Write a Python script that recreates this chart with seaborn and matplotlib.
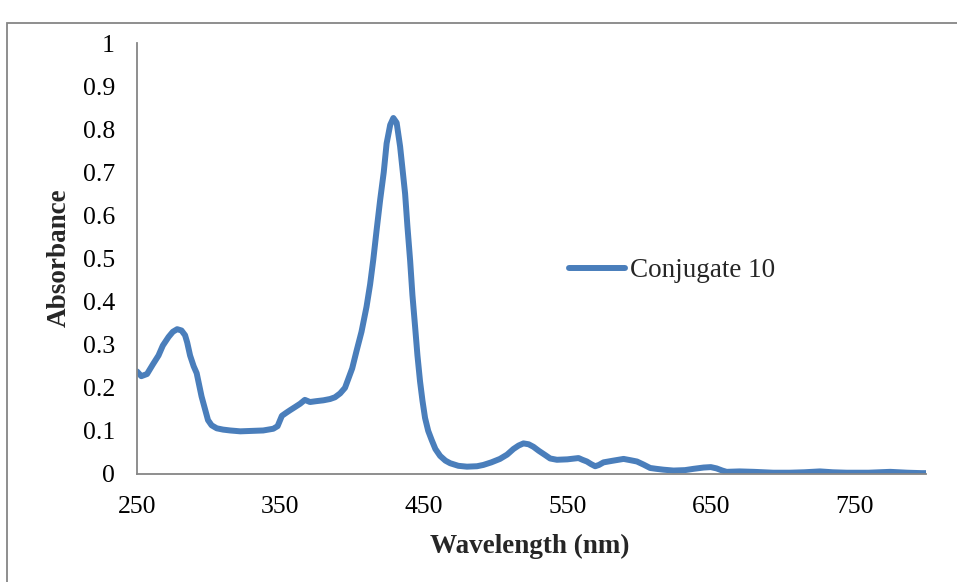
import matplotlib
matplotlib.use("Agg")
import matplotlib.pyplot as plt
import matplotlib.patches as mpatches
from matplotlib.ticker import FixedLocator, FixedFormatter
import seaborn as sns
import pandas as pd

# Data
wavelength = [250, 253, 257, 261, 265, 268, 272, 275, 278, 281, 283.5, 285, 287, 289.5, 291.6, 295,
              299.5, 302, 305.6, 310, 315, 322, 330, 338, 345, 348, 351, 354, 356.7, 360, 363.7, 367,
              370.6, 375, 380, 384.6, 388, 391.6, 395, 397, 400, 403, 406.5, 410, 412.5, 414.7, 417,
              419.5, 422, 424, 426.5, 428.7, 431, 433.4, 435, 436.9, 438.5, 440.4, 442, 443.9, 445.5,
              447.3, 449, 450.8, 453, 455.4, 458, 461.3, 465, 468.3, 474, 480, 487, 491.4, 497, 503,
              508, 512.4, 516, 519.4, 523, 526.4, 530, 534.5, 538, 542.7, 550, 557.8, 560.5, 563.6,
              566.5, 569.4, 572, 575.2, 582, 589.2, 594, 598.5, 603, 607.7, 612, 617, 624, 632, 638,
              645, 650, 654, 658, 661, 670, 680, 693.5, 705, 715, 726, 735, 744.7, 760, 775, 787, 797, 800]
absorbance = [0.238, 0.227, 0.232, 0.254, 0.275, 0.298, 0.318, 0.33, 0.336, 0.333, 0.322, 0.305,
              0.275, 0.25, 0.234, 0.18, 0.125, 0.113, 0.106, 0.103, 0.101, 0.099, 0.1, 0.101, 0.105,
              0.111, 0.135, 0.142, 0.148, 0.155, 0.163, 0.172, 0.167, 0.169, 0.171, 0.174, 0.178,
              0.187, 0.2, 0.218, 0.245, 0.285, 0.33, 0.388, 0.44, 0.497, 0.565, 0.636, 0.7, 0.767,
              0.81, 0.826, 0.815, 0.76, 0.71, 0.65, 0.575, 0.495, 0.415, 0.34, 0.275, 0.215, 0.17,
              0.13, 0.1, 0.079, 0.058, 0.042, 0.031, 0.025, 0.019, 0.017, 0.018, 0.021, 0.027, 0.035,
              0.045, 0.058, 0.066, 0.071, 0.069, 0.063, 0.054, 0.044, 0.036, 0.033, 0.034, 0.037,
              0.033, 0.029, 0.023, 0.018, 0.021, 0.027, 0.031, 0.035, 0.032, 0.029, 0.022, 0.014,
              0.012, 0.01, 0.008, 0.009, 0.012, 0.015, 0.016, 0.013, 0.008, 0.005, 0.006, 0.005,
              0.003, 0.003, 0.004, 0.006, 0.004, 0.003, 0.003, 0.005, 0.003, 0.002, 0.002]
series_name = "Conjugate 10"

x_ticks = [250, 350, 450, 550, 650, 750]
x_tick_labels = ["250", "350", "450", "550", "650", "750"]
y_ticks = [0, 0.1, 0.2, 0.3, 0.4, 0.5, 0.6, 0.7, 0.8, 0.9, 1.0]
y_tick_labels = ["0", "0.1", "0.2", "0.3", "0.4", "0.5", "0.6", "0.7", "0.8", "0.9", "1"]

df = pd.DataFrame({"Wavelength": wavelength, "Absorbance": absorbance})

sns.set_style("white")
plt.rcParams["font.family"] = ["Liberation Serif", "DejaVu Serif"]

W, H = 957, 582
fig = plt.figure(figsize=(W / 100, H / 100), dpi=100)
ax_left, ax_right, ax_bottom, ax_top = 137, 926, 474, 43
ax = fig.add_axes([ax_left / W, 1 - ax_bottom / H, (ax_right - ax_left) / W, (ax_bottom - ax_top) / H])

line_color = "#4a7ebb"
sns.lineplot(data=df, x="Wavelength", y="Absorbance", ax=ax, color=line_color,
             linewidth=4.3, label=series_name, solid_capstyle="round", solid_joinstyle="round")

ax.set_xlim(250, 800)
ax.set_ylim(0, 1)
ax.xaxis.set_major_locator(FixedLocator(x_ticks))
ax.xaxis.set_major_formatter(FixedFormatter(x_tick_labels))
ax.yaxis.set_major_locator(FixedLocator(y_ticks))
ax.yaxis.set_major_formatter(FixedFormatter(y_tick_labels))

axis_gray = "#868686"
for s in ["top", "right"]:
    ax.spines[s].set_visible(False)
for s in ["left", "bottom"]:
    ax.spines[s].set_color(axis_gray)
    ax.spines[s].set_linewidth(1.3)
ax.tick_params(axis="both", which="major", direction="out", length=5, width=1.3,
               color=axis_gray, labelsize=18.5, labelcolor="black", pad=11)
ax.tick_params(axis="x", pad=11)
ax.grid(False)

ax.set_xlabel("Wavelength (nm)", fontsize=19.5, fontweight="bold", va="center")
ax.xaxis.set_label_coords(0.498, -0.167)
ax.set_ylabel("Absorbance", fontsize=19.5, fontweight="bold", va="center")
ax.yaxis.set_label_coords(-0.098, 0.501)

leg = ax.legend(loc="center left", bbox_to_anchor=(0.547, 0.471), frameon=False,
                fontsize=19.5, handlelength=2.1, handletextpad=0.15, borderpad=0, borderaxespad=0)
for h in leg.get_lines():
    h.set_linewidth(4.3)
    h.set_solid_capstyle("round")

# outer chart border
border = mpatches.Rectangle((7 / W, -0.05), 1.2, 1 - 23 / H + 0.05, transform=fig.transFigure,
                            fill=False, edgecolor=axis_gray, linewidth=1.3, clip_on=False)
fig.patches.append(border)

fig.savefig("out.png", dpi=100, facecolor="white")
